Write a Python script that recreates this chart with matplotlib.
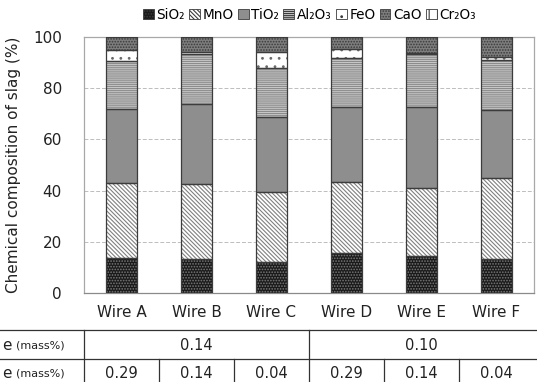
import numpy as np
import matplotlib.pyplot as plt
import matplotlib.transforms as mtransforms
from matplotlib.patches import Patch

plt.rcParams["font.family"] = ["DejaVu Sans"]
plt.rcParams["hatch.linewidth"] = 0.8

# data (% of slag)
wires = ["Wire A", "Wire B", "Wire C", "Wire D", "Wire E", "Wire F"]
components = ["SiO₂", "MnO", "TiO₂", "Al₂O₃", "FeO", "CaO", "Cr₂O₃"]
sio2 = [13.6, 13.3, 12.2, 15.5, 14.5, 13.1]
mno = [29.2, 29.1, 27.1, 27.9, 26.5, 31.8]
tio2 = [29.2, 31.3, 29.4, 29.3, 31.5, 26.7]
al2o3 = [18.8, 19.7, 19.2, 19.2, 20.7, 19.5]
feo = [4.0, 0.9, 6.4, 3.5, 0.5, 1.3]
cao = [5.2, 5.7, 5.7, 4.6, 6.3, 7.6]
cr2o3 = [0.0, 0.0, 0.0, 0.0, 0.0, 0.0]

# table rows under the chart (row labels are cut at the left edge in the source)
row_label_tail = "e"
row_unit = "(mass%)"
row1_values = ["0.14", "0.10"]          # merged over A-C and D-F
row2_values = ["0.29", "0.14", "0.04", "0.29", "0.14", "0.04"]

series = [sio2, mno, tio2, al2o3, feo, cao, cr2o3]
# (facecolor, hatch, hatch colour)
styles = [
    ("#1a1a1a", "......", "#7a7a7a"),
    ("white", "\\\\\\\\\\\\\\\\", "#808080"),
    ("#8e8e8e", "", "#8e8e8e"),
    ("#c8c8c8", "--------", "#8c8c8c"),
    ("white", "..", "#6a6a6a"),
    ("#7e7e7e", "......", "#3a3a3a"),
    ("white", "||", "#606060"),
]

fig = plt.figure(figsize=(5.37, 3.82), dpi=100)
ax = fig.add_axes([0.1564, 0.233, 0.838, 0.670])

x = np.arange(len(wires))
width = 0.41
bottom = np.zeros(len(wires))
for vals, (fc, hatch, hc) in zip(series, styles):
    vals = np.array(vals)
    ax.bar(x, vals, width, bottom=bottom, color=fc, hatch=hatch,
           edgecolor=hc, linewidth=0, zorder=2)
    ax.bar(x, vals, width, bottom=bottom, fill=False,
           edgecolor="#3c3c3c", linewidth=0.9, zorder=3)
    bottom += vals

ax.set_xlim(-0.5, len(wires) - 0.5)
ax.set_ylim(0, 100)
ax.set_yticks([0, 20, 40, 60, 80, 100])
ax.set_xticks(x)
ax.set_xticklabels(wires)
ax.tick_params(axis="both", length=0, labelsize=11, colors="#222222")
ax.tick_params(axis="y", pad=16)
ax.tick_params(axis="x", pad=9)
ax.yaxis.grid(True, linestyle=(0, (4, 2)), color="#bdbdbd", linewidth=0.7, zorder=0)
for s in ax.spines.values():
    s.set_color("#a8a8a8")
    s.set_linewidth(0.9)
ax.spines["bottom"].set_color("#8a8a8a")
ax.set_ylabel("Chemical composition of slag (%)", fontsize=11, color="#222222")
ax.yaxis.set_label_coords(-0.14, 0.5)

handles = [Patch(facecolor=fc, hatch=hatch, edgecolor="#3c3c3c", linewidth=0.6)
           for (fc, hatch, hc) in styles]
fig.legend(handles, components, loc="center", bbox_to_anchor=(0.576, 0.962), ncol=7,
           frameon=False, fontsize=9.8, handlelength=0.8, handleheight=0.8,
           handletextpad=0.2, columnspacing=0.3, borderaxespad=0)

# table below chart: x in data coords, y in figure coords
btr = mtransforms.blended_transform_factory(ax.transData, fig.transFigure)
y_top = 1 - 330 / 382
y_mid = 1 - 359 / 382
y_bot = 1 - 390 / 382
line_kw = dict(color="#333333", linewidth=0.9, clip_on=False)
fig.add_artist(plt.Line2D([0, 1], [y_top, y_top], transform=fig.transFigure, **line_kw))
fig.add_artist(plt.Line2D([0, 1], [y_mid, y_mid], transform=fig.transFigure, **line_kw))
for b in [-0.5, 2.5]:
    fig.add_artist(plt.Line2D([b, b], [y_top, y_bot], transform=btr, **line_kw))
for b in [0.5, 1.5, 3.5, 4.5]:
    fig.add_artist(plt.Line2D([b, b], [y_mid, y_bot], transform=btr, **line_kw))

y1 = 1 - 345 / 382
y2 = 1 - 373 / 382
fig.text(1.0, y1, row1_values[0], transform=btr, ha="center", va="center", fontsize=10.5, color="#222222")
fig.text(4.0, y1, row1_values[1], transform=btr, ha="center", va="center", fontsize=10.5, color="#222222")
for i, v in enumerate(row2_values):
    fig.text(i, y2, v, transform=btr, ha="center", va="center", fontsize=10.5, color="#222222")

for yy in [y1, y2]:
    fig.text(2 / 537, yy, row_label_tail, ha="left", va="center", fontsize=11, color="#222222")
    fig.text(16 / 537, yy, row_unit, ha="left", va="center", fontsize=8, color="#222222")

fig.savefig("out.png", dpi=100)
